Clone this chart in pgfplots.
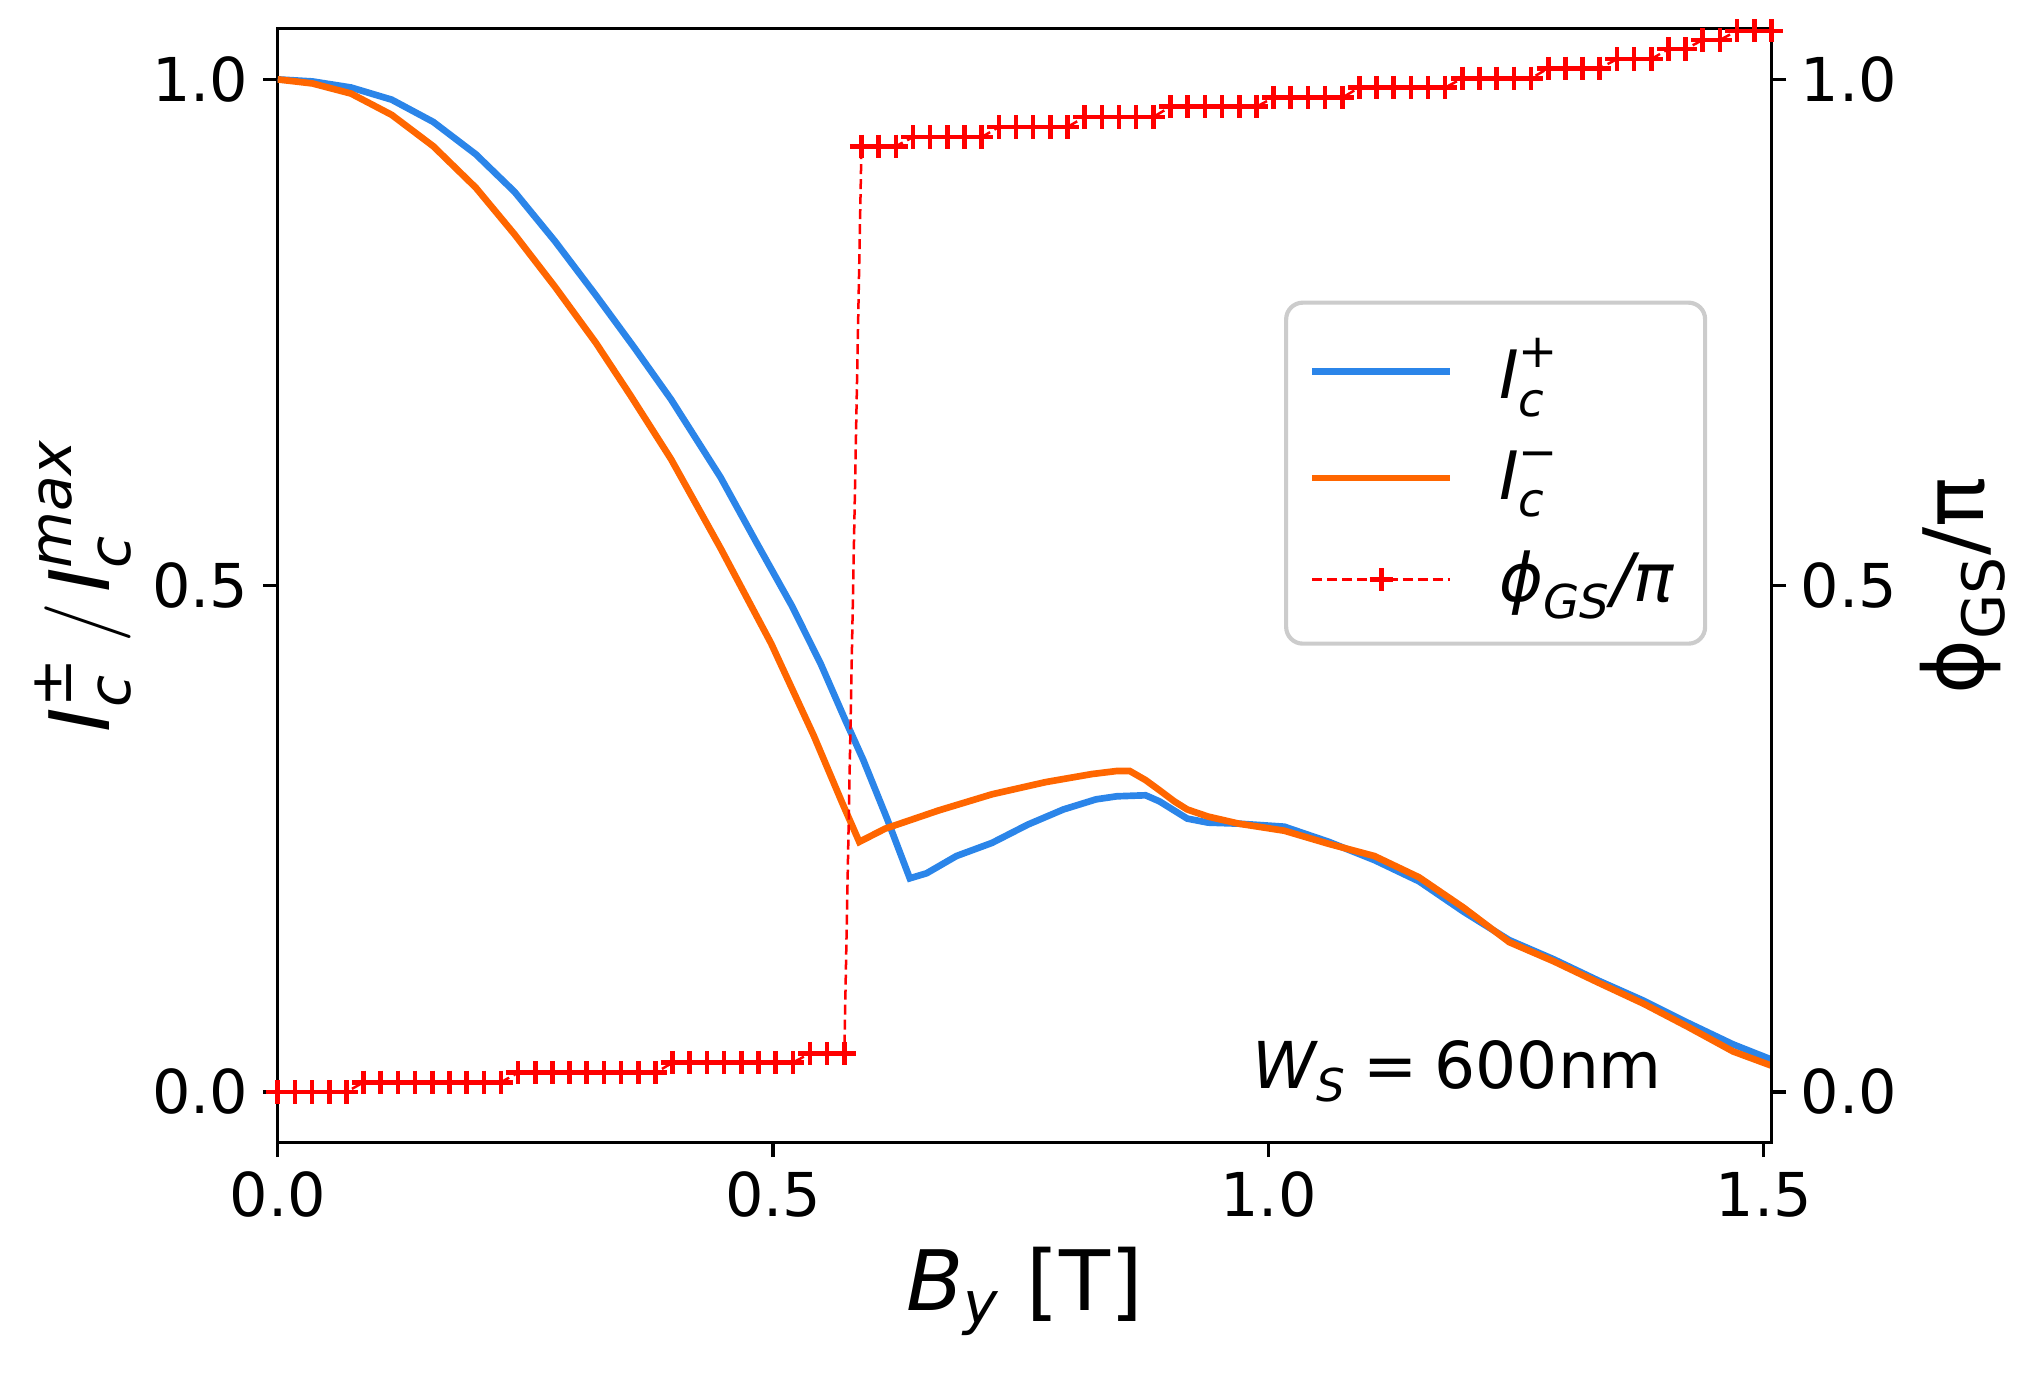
\documentclass[border=0pt]{standalone}
\usepackage{fontspec}
\setmainfont{DejaVu Sans}
\usepackage{amsmath}
\usepackage{pgfplots}
\pgfplotsset{compat=1.18}
\definecolor{cblue}{HTML}{2B85E9}
\definecolor{corange}{HTML}{FF6600}
\definecolor{cred}{HTML}{FF0000}
\definecolor{legframe}{HTML}{CCCCCC}
\pgfplotsset{/pgf/number format/assume math mode=true}

\pgfplotstableread{
x y
0.000 1.000
0.035 0.998
0.074 0.992
0.115 0.980
0.157 0.958
0.200 0.926
0.239 0.889
0.280 0.840
0.321 0.787
0.360 0.735
0.397 0.684
0.447 0.607
0.483 0.543
0.519 0.480
0.548 0.423
0.573 0.367
0.591 0.328
0.615 0.270
0.638 0.211
0.655 0.216
0.685 0.233
0.721 0.246
0.757 0.264
0.793 0.279
0.826 0.289
0.847 0.292
0.876 0.293
0.890 0.287
0.918 0.270
0.939 0.266
0.970 0.265
1.016 0.262
1.061 0.247
1.107 0.229
1.152 0.208
1.197 0.178
1.243 0.150
1.288 0.131
1.333 0.110
1.379 0.090
1.424 0.068
1.469 0.047
1.5077 0.032
}\icplus

\pgfplotstableread{
x y
0.000 1.000
0.035 0.996
0.074 0.986
0.115 0.965
0.157 0.934
0.200 0.893
0.239 0.847
0.280 0.795
0.321 0.740
0.356 0.688
0.397 0.625
0.447 0.537
0.498 0.443
0.541 0.352
0.570 0.285
0.587 0.247
0.613 0.260
0.667 0.278
0.721 0.294
0.775 0.306
0.822 0.314
0.847 0.317
0.860 0.317
0.876 0.308
0.890 0.298
0.905 0.287
0.918 0.279
0.939 0.272
0.970 0.265
1.016 0.258
1.061 0.245
1.107 0.233
1.152 0.212
1.197 0.182
1.243 0.148
1.288 0.129
1.333 0.108
1.379 0.087
1.424 0.064
1.469 0.040
1.5077 0.026
}\icminus

\pgfplotstableread{
x y
0.0000 0.0
0.0173 0.0
0.0347 0.0
0.0520 0.0
0.0693 0.0
0.0867 0.0096
0.1040 0.0096
0.1213 0.0096
0.1386 0.0096
0.1560 0.0096
0.1733 0.0096
0.1906 0.0096
0.2080 0.0096
0.2253 0.0096
0.2426 0.019
0.2600 0.019
0.2773 0.019
0.2946 0.019
0.3119 0.019
0.3293 0.019
0.3466 0.019
0.3639 0.019
0.3813 0.019
0.3986 0.029
0.4159 0.029
0.4333 0.029
0.4506 0.029
0.4679 0.029
0.4852 0.029
0.5026 0.029
0.5199 0.029
0.5372 0.038
0.5546 0.038
0.5719 0.038
0.5892 0.934
0.6066 0.934
0.6239 0.934
0.6412 0.943
0.6585 0.943
0.6759 0.943
0.6932 0.943
0.7105 0.943
0.7279 0.953
0.7452 0.953
0.7625 0.953
0.7799 0.953
0.7972 0.953
0.8145 0.963
0.8318 0.963
0.8492 0.963
0.8665 0.963
0.8838 0.963
0.9012 0.973
0.9185 0.973
0.9358 0.973
0.9532 0.973
0.9705 0.973
0.9878 0.973
1.0051 0.982
1.0225 0.982
1.0398 0.982
1.0571 0.982
1.0745 0.982
1.0918 0.992
1.1091 0.992
1.1265 0.992
1.1438 0.992
1.1611 0.992
1.1784 0.992
1.1958 1.001
1.2131 1.001
1.2304 1.001
1.2478 1.001
1.2651 1.001
1.2824 1.011
1.2998 1.011
1.3171 1.011
1.3344 1.011
1.3517 1.020
1.3691 1.020
1.3864 1.020
1.4037 1.030
1.4211 1.030
1.4384 1.039
1.4557 1.039
1.4731 1.048
1.4904 1.048
1.5077 1.048
}\phase

\begin{document}
\begin{tikzpicture}
\useasboundingbox (-66.6pt,-55.7pt) rectangle (421.4pt,274pt);
\begin{axis}[
  scale only axis, width=358.2pt, height=267.1pt,
  xmin=0, xmax=1.5077, ymin=-0.05, ymax=1.05,
  xtick={0,0.5,1,1.5}, ytick={0,0.5,1},
  xtick pos=bottom, ytick pos=left,
  tick align=outside, major tick length=3.5pt,
  every tick/.style={line width=0.8pt, black},
  axis line style={line width=0.8pt},
  xticklabel style={/pgf/number format/.cd, fixed, fixed zerofill, precision=1},
  yticklabel style={/pgf/number format/.cd, fixed, fixed zerofill, precision=1},
  tick label style={font=\fontsize{14.5}{17}\selectfont},
  label style={font=\fontsize{20}{24}\selectfont},
  xlabel={$\textit{B}_{\textit{y}}$ [T]},
  ylabel={$\textit{I}_{\textit{c}}^{\text{±}}\,/\mkern2mu\textit{I}_{\textit{c}}^{\textit{max}}$},
  xlabel style={at={(axis description cs:0.5,-0.1335)}, anchor=center},
  ylabel style={at={(axis description cs:-0.13,0.5)}, anchor=center},
]
\addplot[cblue, line width=1.6pt] table[x=x, y=y] {\icplus};
\addplot[corange, line width=1.6pt] table[x=x, y=y] {\icminus};
\node[anchor=base west, font=\fontsize{15.5}{18}\selectfont, inner sep=0pt] at (axis cs:0.983,0.003) {$\textit{W}_{\textit{S}}\mathrel{\text{=}}\text{600nm}$};
\end{axis}
\begin{axis}[
  scale only axis, width=358.2pt, height=267.1pt,
  xmin=0, xmax=1.5077, ymin=-0.05, ymax=1.05,
  axis x line=none, axis y line*=right,
  ytick={0,0.5,1},
  tick align=outside, major tick length=3.5pt,
  every tick/.style={line width=0.8pt, black},
  axis line style={line width=0.8pt, -},
  yticklabel style={/pgf/number format/.cd, fixed, fixed zerofill, precision=1},
  tick label style={font=\fontsize{14.5}{17}\selectfont},
  label style={font=\fontsize{20}{24}\selectfont},
  ylabel={$\text{ϕ}_{\text{GS}}\text{/π}$},
  ylabel style={at={(axis description cs:1.128,0.5)}, anchor=center},
  legend image code/.code={\draw[mark repeat=2,mark phase=2,#1] plot coordinates {(0cm,0cm) (0.58cm,0cm) (1.16cm,0cm)};},
  legend style={at={(axis description cs:0.957,0.756)}, anchor=north east,
    draw=legframe, line width=1pt, rounded corners=4pt, fill=white,
    font=\fontsize{16}{19}\selectfont, cells={anchor=west},
    row sep=7pt, inner xsep=5.5pt, inner ysep=6.5pt,
    /tikz/every odd column/.append style={column sep=9pt}},
]
\addlegendimage{cblue, line width=1.6pt}
\addlegendimage{corange, line width=1.6pt}
\addplot[cred, line width=0.6pt, dash pattern=on 2.4pt off 1.2pt, mark=+, mark size=2.8pt, mark options={solid, line width=1.1pt}] table[x=x, y=y] {\phase};
\legend{$\textit{I}_{\textit{c}}^{\text{+}}$, $\textit{I}_{\textit{c}}^{\text{−}}$, $\textit{ϕ}_{\textit{GS}}\textit{/π}$}
\end{axis}
\end{tikzpicture}
\end{document}
